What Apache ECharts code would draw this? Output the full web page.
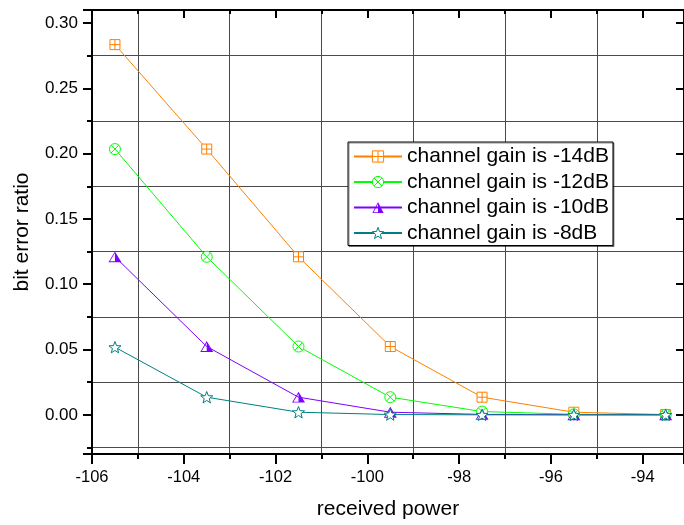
<!DOCTYPE html>
<html>
<head>
<meta charset="utf-8">
<script src="https://cdn.jsdelivr.net/npm/echarts@6/dist/echarts.min.js"></script>
<style>
html, body { margin: 0; padding: 0; background: #fff; }
#main { width: 684px; height: 525px; }
</style>
</head>
<body>
<div id="main"></div>
<script>
// data
var powers = [-105.5, -103.5, -101.5, -99.5, -97.5, -95.5, -93.5];
var ber14 = [0.2835, 0.2035, 0.121, 0.0523, 0.0135, 0.002, 0.0002];
var ber12 = [0.2035, 0.121, 0.0523, 0.0135, 0.0025, 0.0004, 0.0001];
var ber10 = [0.121, 0.0523, 0.0135, 0.002, 0.0003, 0.0, 0.0];
var ber8 = [0.0518, 0.0135, 0.002, 0.0002, 0.0, 0.0, 0.0];
var names = ['channel gain is -14dB', 'channel gain is -12dB', 'channel gain is -10dB', 'channel gain is -8dB'];

var font = 'Liberation Sans, Arial, sans-serif';

// marker shapes
var sqPlus = 'path://M0,0H10V10H0Z M5,0V10 M0,5H10';
var circX = 'path://M0,5A5,5 0 1 1 10,5A5,5 0 1 1 0,5Z M1.46,1.46L8.54,8.54 M8.54,1.46L1.46,8.54';
// left half outlined, right half filled
var halfTri = 'path://M6,0L12,10L6,10Z M6,0L0,10L6,10Z M6,1.555L6,9.2L1.413,9.2Z';
var star = 'path://M5,0L6.235,3.301L9.755,3.455L6.997,5.649L7.939,9.045L5,7.1L2.061,9.045L3.003,5.649L0.245,3.455L3.765,3.301Z';

function pairs(ys) {
	return powers.map(function (x, i) { return [x, ys[i]]; });
}

function mkSeries(name, ys, color, symbol, size, filled) {
	return {
		name: name,
		type: 'line',
		data: pairs(ys),
		symbol: symbol,
		symbolSize: size,
		symbolKeepAspect: true,
		showAllSymbol: true,
		lineStyle: { color: color, width: 1 },
		itemStyle: filled ?
			{ color: color, borderWidth: 0 } :
			{ color: '#fff', borderColor: color, borderWidth: 1 },
		emphasis: { disabled: true }
	};
}

var gridColor = '#4a4a4a';

var myChart = echarts.init(document.getElementById('main'));
var option = {
	animation: false,
	backgroundColor: '#fff',
	grid: { left: 92, top: 10, right: -5, bottom: 70 },
	legend: {
		left: 348,
		top: 142,
		orient: 'vertical',
		backgroundColor: '#fff',
		borderColor: '#000',
		borderWidth: 1,
		shadowColor: 'rgba(0,0,0,0.45)',
		shadowOffsetX: 1,
		shadowOffsetY: 1,
		padding: [4, 4, 2, 5],
		itemWidth: 48,
		itemHeight: 14,
		itemGap: 4.5,
		selectedMode: false,
		itemStyle: { borderWidth: 1 },
		textStyle: { color: '#000', fontSize: 21, lineHeight: 21, fontFamily: font },
		data: [
			{ name: names[0] },
			{ name: names[1] },
			{ name: names[2], itemStyle: { borderWidth: 0 } },
			{ name: names[3] }
		]
	},
	xAxis: [{
		type: 'value',
		position: 'bottom',
		min: -106,
		max: -93.1,
		interval: 2,
		name: 'received power',
		nameLocation: 'middle',
		nameGap: 45,
		nameTextStyle: { color: '#000', fontSize: 21, fontFamily: font },
		axisLine: { show: true, onZero: false, lineStyle: { color: '#000', width: 2 } },
		axisTick: { show: true, inside: false, length: 10, lineStyle: { color: '#000', width: 2 } },
		minorTick: { show: true, splitNumber: 2, length: 5, lineStyle: { color: '#000', width: 2 } },
		axisLabel: { color: '#000', fontSize: 16.5, fontFamily: font, margin: 15, showMaxLabel: false },
		splitLine: { show: false },
		minorSplitLine: { show: true, lineStyle: { color: gridColor, width: 1 } }
	}, {
		type: 'value',
		position: 'top',
		min: -106,
		max: -93.1,
		interval: 2,
		axisLine: { show: true, onZero: false, lineStyle: { color: '#000', width: 2 } },
		axisTick: { show: true, inside: true, length: 8, lineStyle: { color: '#000', width: 2 } },
		minorTick: { show: true, splitNumber: 2, length: 4, lineStyle: { color: '#000', width: 2 } },
		axisLabel: { show: false },
		splitLine: { show: false }
	}],
	yAxis: [{
		type: 'value',
		position: 'left',
		min: -0.03,
		max: 0.31,
		splitNumber: 7,
		name: 'bit error ratio',
		nameLocation: 'middle',
		nameGap: 59,
		nameTextStyle: { color: '#000', fontSize: 21, fontFamily: font },
		axisLine: { show: true, onZero: false, lineStyle: { color: '#000', width: 2 } },
		axisTick: { show: true, inside: false, length: 9, lineStyle: { color: '#000', width: 2 } },
		minorTick: { show: true, splitNumber: 2, length: 5, lineStyle: { color: '#000', width: 2 } },
		axisLabel: {
			color: '#000', fontSize: 17, fontFamily: font, margin: 14,
			showMinLabel: false, showMaxLabel: false,
			formatter: function (v) { return v.toFixed(2); }
		},
		splitLine: { show: false },
		minorSplitLine: { show: true, lineStyle: { color: gridColor, width: 1 } }
	}, {
		type: 'value',
		position: 'right',
		min: -0.03,
		max: 0.31,
		splitNumber: 7,
		axisLine: { show: true, onZero: false, lineStyle: { color: '#000', width: 2 } },
		axisTick: { show: true, inside: true, length: 8, lineStyle: { color: '#000', width: 2 } },
		axisLabel: { show: false },
		splitLine: { show: false }
	}],
	series: [
		mkSeries(names[0], ber14, '#ff8000', sqPlus, 10, false),
		mkSeries(names[1], ber12, '#00ff00', circX, 11, false),
		mkSeries(names[2], ber10, '#8000ff', halfTri, 13, true),
		mkSeries(names[3], ber8, '#008080', star, 12, false)
	]
};

myChart.setOption(option);
</script>
</body>
</html>
